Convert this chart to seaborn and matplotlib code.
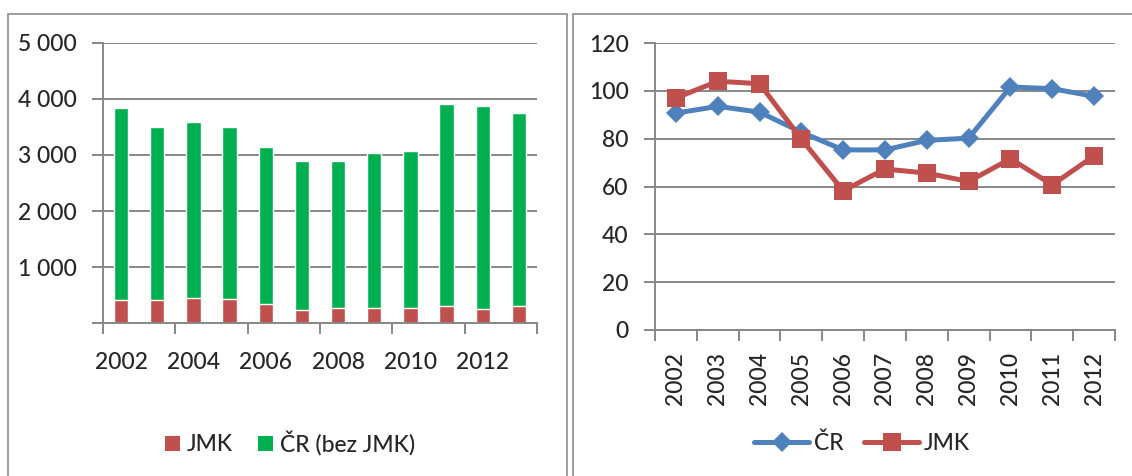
import numpy as np
import pandas as pd
import matplotlib
matplotlib.use('Agg')
import matplotlib.pyplot as plt
from matplotlib.patches import Rectangle, Patch
from matplotlib.lines import Line2D
import seaborn as sns

# left chart: stacked bars (JMK + rest of CR)
bar_years = [2002, 2003, 2004, 2005, 2006, 2007, 2008, 2009, 2010, 2011, 2012, 2013]
jmk_count = [419, 407, 443, 425, 341, 240, 275, 269, 263, 299, 251, 305]
cr_bez_jmk = [3425, 3096, 3138, 3078, 2803, 2652, 2611, 2773, 2803, 3605, 3623, 3444]
bar_yticks = [0, 1000, 2000, 3000, 4000, 5000]
bar_ylabels = ['', '1 000', '2 000', '3 000', '4 000', '5 000']

# right chart: index lines
line_years = [2002, 2003, 2004, 2005, 2006, 2007, 2008, 2009, 2010, 2011, 2012]
cr_index = [90.7, 93.5, 91.1, 82.7, 75.3, 75.3, 79.3, 80.2, 101.6, 100.9, 97.7]
jmk_index = [97.0, 104.0, 103.0, 79.8, 58.2, 67.3, 65.6, 62.1, 71.6, 60.7, 72.8]
line_yticks = [0, 20, 40, 60, 80, 100, 120]

red = '#C0504D'
green = '#00B050'
blue = '#4F81BD'
gray = '#878787'

sns.set_style('white')
plt.rcParams['font.family'] = ['Lato', 'DejaVu Sans']
plt.rcParams['font.weight'] = 'medium'
fs = 16.5

W, H = 1132, 476
fig = plt.figure(figsize=(W / 100, H / 100), dpi=100)

# panel frames
fig.patches.append(Rectangle((8 / W, -0.1), (567 - 8) / W, (476 - 14) / H + 0.1,
                             transform=fig.transFigure, fill=False, edgecolor='#8c8c8c', lw=1.2))
fig.patches.append(Rectangle((573 / W, -0.1), 1.0, (476 - 14) / H + 0.1,
                             transform=fig.transFigure, fill=False, edgecolor='#8c8c8c', lw=1.2))

# ---- left: bars
ax1 = fig.add_axes([103 / W, (H - 323) / H, 434 / W, 280 / H])
df_bar = pd.DataFrame({'rok': bar_years, 'JMK': jmk_count, 'CR': cr_bez_jmk})
df_bar['celkem'] = df_bar['JMK'] + df_bar['CR']
sns.barplot(data=df_bar, x='rok', y='celkem', color=green, width=0.4, saturation=1, ax=ax1)
sns.barplot(data=df_bar, x='rok', y='JMK', color=red, width=0.4, saturation=1, ax=ax1)

ax1.set_xlim(-0.5, len(bar_years) - 0.5)
ax1.set_ylim(0, 5000)
ax1.set_xticks(range(0, len(bar_years), 2))
ax1.set_xticklabels([str(y) for y in bar_years[::2]])
ax1.set_xticks(np.arange(-0.5, len(bar_years), 2), minor=True)
ax1.set_yticks(bar_yticks)
ax1.set_yticklabels(bar_ylabels)

# ---- right: lines
ax2 = fig.add_axes([655 / W, (H - 330) / H, 460 / W, 287 / H])
df_line = pd.DataFrame({'pos': np.arange(len(line_years)), 'CR': cr_index, 'JMK': jmk_index})
sns.lineplot(data=df_line, x='pos', y='CR', color=blue, lw=3.6, marker='D', markersize=10,
             markeredgewidth=0, ax=ax2, zorder=3)
sns.lineplot(data=df_line, x='pos', y='JMK', color=red, lw=3.6, marker='s', markersize=13,
             markeredgewidth=0, ax=ax2, zorder=4)
ax2.set_xlim(-0.5, len(line_years) - 0.5)
ax2.set_ylim(0, 120)
ax2.set_xticks(range(len(line_years)))
ax2.set_xticklabels([str(y) for y in line_years], rotation=90)
ax2.set_xticks(np.arange(-0.5, len(line_years), 1), minor=True)
ax2.set_yticks(line_yticks)

for ax in (ax1, ax2):
    ax.set_xlabel('')
    ax.set_ylabel('')
    ax.set_axisbelow(True)
    ax.yaxis.grid(True, color=gray, lw=1.4)
    for s in ('top', 'right'):
        ax.spines[s].set_visible(False)
    for s in ('left', 'bottom'):
        ax.spines[s].set_color(gray)
        ax.spines[s].set_linewidth(1.4)
    ax.tick_params(axis='y', which='major', length=8, width=1.4, color=gray, direction='out',
                   left=True, labelsize=fs, pad=11)
    ax.tick_params(axis='x', which='major', length=0, labelsize=fs, bottom=True)
    ax.tick_params(axis='x', which='minor', length=8, width=1.4, color=gray, direction='out', bottom=True)

ax1.tick_params(axis='x', which='major', pad=21)
ax2.tick_params(axis='x', which='major', pad=16)

# legends
h1 = [Patch(facecolor=red, edgecolor='none', label='JMK'),
      Patch(facecolor=green, edgecolor='none', label='ČR (bez JMK)')]
fig.legend(handles=h1, loc='center', bbox_to_anchor=(290 / W, 1 - 443 / H), ncol=2,
           frameon=False, fontsize=fs, handlelength=0.65, handleheight=0.65,
           handletextpad=0.3, columnspacing=1.1, borderpad=0)

h2 = [Line2D([], [], color=blue, lw=3.6, marker='D', markersize=10, markeredgewidth=0, label='ČR'),
      Line2D([], [], color=red, lw=3.6, marker='s', markersize=13, markeredgewidth=0, label='JMK')]
fig.legend(handles=h2, loc='center', bbox_to_anchor=(862 / W, 1 - 443 / H), ncol=2,
           frameon=False, fontsize=fs, handlelength=2.4, handletextpad=0.2,
           columnspacing=0.9, borderpad=0)

fig.savefig('out.png', dpi=100)
